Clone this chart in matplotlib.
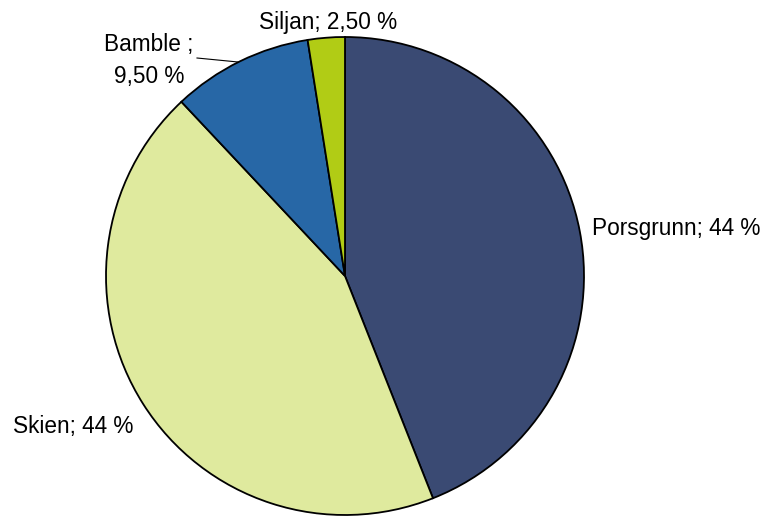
import matplotlib
matplotlib.use("Agg")
import matplotlib.pyplot as plt

plt.rcParams['font.family'] = ['Liberation Sans', 'DejaVu Sans']

categories = ["Porsgrunn", "Skien", "Bamble", "Siljan"]
shares = [44.0, 44.0, 9.5, 2.5]
colors = ["#3A4A73", "#DFEA9E", "#2767A6", "#B1CC15"]

W, H = 765, 516
CX, CY, R = 345, 276, 239


def px(x, y):
    """Convert a pixel position to data units (pie centre at origin, radius 1)."""
    return (x - CX) / R, (CY - y) / R


def fmt(v):
    if float(v).is_integer():
        return f"{int(v)} %"
    return f"{v:.2f}".replace(".", ",") + " %"


fig = plt.figure(figsize=(W / 100, H / 100), dpi=100)
ax = fig.add_axes([0, 0, 1, 1])
ax.pie(shares, colors=colors, startangle=90, counterclock=False, radius=1,
       wedgeprops=dict(edgecolor="black", linewidth=1.3))
x0, y1 = px(0, 0)
x1, y0 = px(W, H)
ax.set_xlim(x0, x1)
ax.set_ylim(y0, y1)
ax.set_aspect("auto")
ax.axis("off")

fs = 16.3
ax.text(*px(592, 228), f"{categories[0]}; {fmt(shares[0])}", ha="left", va="center", fontsize=fs)
ax.text(*px(13, 426), f"{categories[1]}; {fmt(shares[1])}", ha="left", va="center", fontsize=fs)
ax.text(*px(149, 61), f"{categories[2]} ;\n{fmt(shares[2])}", ha="center", va="center",
        multialignment="center", fontsize=fs, linespacing=1.5)
ax.text(*px(259, 22), f"{categories[3]}; {fmt(shares[3])}", ha="left", va="center", fontsize=fs)

# leader line for the Bamble label
lx0, ly0 = px(197, 58)
lx1, ly1 = px(238, 62)
ax.plot([lx0, lx1], [ly0, ly1], color="black", linewidth=0.8)

fig.savefig("out.png", dpi=100)
